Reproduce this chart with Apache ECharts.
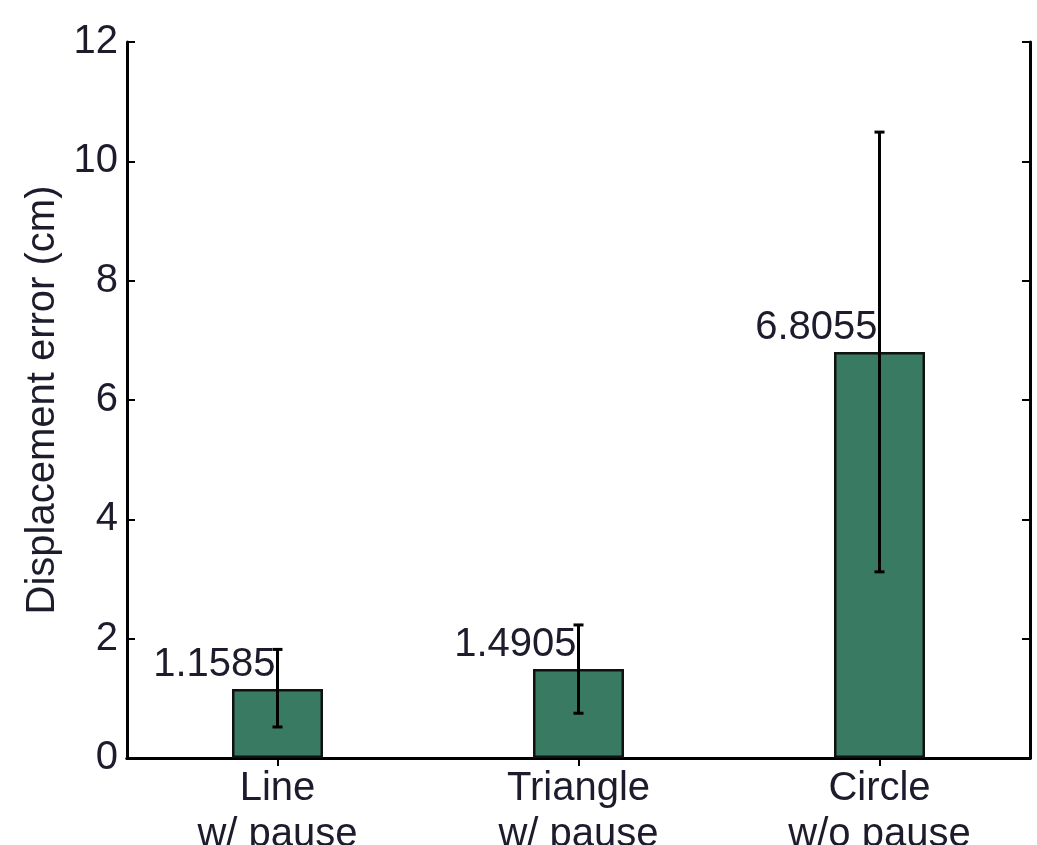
<!DOCTYPE html>
<html>
<head>
<meta charset="utf-8">
<script src="https://cdn.jsdelivr.net/npm/echarts@6/dist/echarts.min.js"></script>
<style>html,body{margin:0;padding:0;background:#fff}#c{width:1037px;height:845px}</style>
</head>
<body>
<div id="c"></div>
<script>
const categories = ['Line\nw/ pause', 'Triangle\nw/ pause', 'Circle\nw/o pause'];
const values = [1.1585, 1.4905, 6.8055];
const errLow = [0.52, 0.75, 3.12];
const errHigh = [1.82, 2.23, 10.49];
const labels = ['1.1585', '1.4905', '6.8055'];
const yTicks = [0, 2, 4, 6, 8, 10, 12];

const FONT = 'Liberation Sans, Arial, sans-serif';
const chart = echarts.init(document.getElementById('c'));
const axisLine = { show: true, lineStyle: { color: '#000', width: 3 } };
const tick = { show: true, inside: true, length: 8, lineStyle: { color: '#000', width: 2 } };
chart.setOption({
  animation: false,
  grid: { left: 127, right: 7, top: 42, bottom: 87, containLabel: false, outerBoundsMode: 'none' },
  xAxis: [
    { type: 'category', data: categories, position: 'bottom',
      axisLine, axisTick: Object.assign({ alignWithLabel: true }, tick),
      axisLabel: { color: '#1c1c2c', fontFamily: FONT, fontSize: 40, lineHeight: 46, margin: 8 } },
    { type: 'category', data: categories, position: 'top',
      axisLine, axisTick: Object.assign({ alignWithLabel: true }, tick),
      axisLabel: { show: false } }
  ],
  yAxis: [
    { type: 'value', min: 0, max: 12, interval: 2, position: 'left',
      name: 'Displacement error (cm)', nameLocation: 'middle', nameGap: 64,
      nameTextStyle: { color: '#1c1c2c', fontFamily: FONT, fontSize: 40 },
      axisLine, splitLine: { show: false }, axisTick: tick,
      axisLabel: { color: '#1c1c2c', fontFamily: FONT, fontSize: 40, margin: 9,
        formatter: v => yTicks.includes(v) ? String(v) : '' } },
    { type: 'value', min: 0, max: 12, interval: 2, position: 'right',
      axisLine, splitLine: { show: false }, axisTick: tick,
      axisLabel: { show: false } }
  ],
  series: [
    { type: 'bar', data: values, barWidth: 91,
      itemStyle: { color: '#387a62', borderColor: '#111', borderWidth: 2.5 } },
    { type: 'custom', data: values.map((v, i) => [i, errLow[i], errHigh[i]]), z: 5,
      renderItem: (params, api) => {
        const i = api.value(0);
        const lo = api.coord([i, api.value(1)]);
        const hi = api.coord([i, api.value(2)]);
        const cap = 5;
        const st = { stroke: '#000', lineWidth: 3 };
        return { type: 'group', children: [
          { type: 'line', shape: { x1: lo[0], y1: lo[1], x2: hi[0], y2: hi[1] }, style: st },
          { type: 'line', shape: { x1: hi[0] - cap, y1: hi[1], x2: hi[0] + cap, y2: hi[1] }, style: st },
          { type: 'line', shape: { x1: lo[0] - cap, y1: lo[1], x2: lo[0] + cap, y2: lo[1] }, style: st }
        ]};
      } },
    { type: 'custom', data: values.map((v, i) => [i, v]), z: 6,
      renderItem: (params, api) => {
        const i = api.value(0);
        const p = api.coord([i, api.value(1)]);
        return { type: 'text', x: p[0] - 2, y: p[1] - 4,
          style: { text: labels[i], fill: '#1c1c2c', font: '40px ' + FONT, textAlign: 'right', textVerticalAlign: 'bottom' } };
      } }
  ]
});
</script>
</body>
</html>
